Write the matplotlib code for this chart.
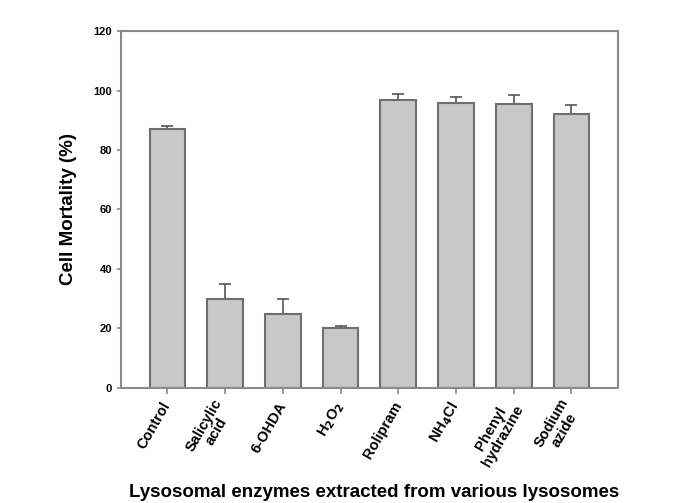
import numpy as np
import matplotlib.pyplot as plt

plt.rcParams['font.family'] = ['Liberation Sans', 'DejaVu Sans']

labels = ["Control", "Salicylic\nacid", "6-OHDA", "H$_\\mathbf{2}$O$_\\mathbf{2}$", "Rolipram",
          "NH$_\\mathbf{4}$Cl", "Phenyl\nhydrazine", "Sodium\nazide"]
mortality = [87, 30, 25, 20, 97, 96, 95.5, 92]
errors = [1, 5, 5, 0.7, 2, 2, 3, 3]

fig = plt.figure(figsize=(6.81, 5.03), dpi=100)
ax = fig.add_axes([0.178, 0.229, 0.729, 0.709])

x = np.arange(len(labels))
ax.bar(x, mortality, width=0.62, color="#c8c8c8", edgecolor="#6e6e6e", linewidth=1.5, zorder=2)
ax.errorbar(x, mortality, yerr=[np.zeros(len(errors)), errors], fmt="none",
            ecolor="#555555", elinewidth=1.2, capsize=4, capthick=1.2, zorder=1)

ax.set_xlim(-0.8, 7.8)
ax.set_ylim(0, 120)
ax.set_yticks([0, 20, 40, 60, 80, 100, 120])
ax.set_xticks(x)
ax.set_xticklabels(labels, rotation=60, ha="right", va="center", rotation_mode="anchor",
                   fontsize=10.5, fontweight="bold", linespacing=1.0, multialignment="center")
ax.tick_params(axis="x", pad=7)
for t in ax.get_yticklabels():
    t.set_fontsize(8)
    t.set_fontweight("bold")

for s in ax.spines.values():
    s.set_color("#8a8a8a")
    s.set_linewidth(1.5)
ax.tick_params(axis="both", color="#8a8a8a", width=1.2, length=4, direction="out")
ax.tick_params(axis="y", length=3)

ax.set_ylabel("Cell Mortality (%)", fontsize=13.5, fontweight="bold", labelpad=12)
fig.text(0.55, 0.012, "Lysosomal enzymes extracted from various lysosomes", ha="center",
         fontsize=13.5, fontweight="bold")

plt.savefig("out.png", dpi=100)
